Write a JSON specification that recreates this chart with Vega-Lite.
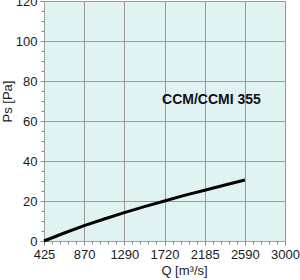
{
  "$schema": "https://vega.github.io/schema/vega-lite/v6.json",
  "width": 241,
  "height": 240,
  "autosize": "none",
  "padding": {"left": 44, "top": 1, "right": 15, "bottom": 39},
  "background": "white",
  "view": {"fill": "#e1f2f2", "stroke": "#a8a8a8", "strokeWidth": 1},
  "config": {
    "font": "Liberation Sans",
    "axis": {
      "labelFont": "Liberation Sans",
      "labelFontSize": 13,
      "labelColor": "#1a1a1a",
      "titleFont": "Liberation Sans",
      "titleFontSize": 13,
      "titleFontWeight": "normal",
      "titleColor": "#1a1a1a",
      "tickColor": "#8a8a8a",
      "domainColor": "#a0a0a0",
      "gridColor": "#9a9a9a",
      "gridOpacity": 1,
      "gridWidth": 1,
      "tickSize": 4
    }
  },
  "resolve": {"axis": {"x": "independent", "y": "independent"}},
  "layer": [
    {
      "data": {
        "values": [
          {"Q": 425, "Ps": 0},
          {"Q": 650, "Ps": 4.0},
          {"Q": 870, "Ps": 7.7},
          {"Q": 1080, "Ps": 11.0},
          {"Q": 1290, "Ps": 14.2},
          {"Q": 1505, "Ps": 17.2},
          {"Q": 1720, "Ps": 20.0},
          {"Q": 1950, "Ps": 22.8},
          {"Q": 2185, "Ps": 25.4},
          {"Q": 2390, "Ps": 28.0},
          {"Q": 2590, "Ps": 30.5}
        ]
      },
      "mark": {"type": "line", "color": "#000000", "strokeWidth": 3, "strokeCap": "butt"},
      "encoding": {
        "x": {
          "field": "Q",
          "type": "quantitative",
          "scale": {
            "domain": [425, 870, 1290, 1720, 2185, 2590, 3000],
            "range": [0, 40.17, 80.33, 120.5, 160.67, 200.83, 241],
            "nice": false,
            "zero": false
          },
          "axis": {
            "orient": "bottom",
            "values": [425, 870, 1290, 1720, 2185, 2590, 3000],
            "format": "d",
            "grid": true,
            "labelPadding": 3,
            "labelFlush": false,
            "labelOverlap": false,
            "title": "Q [m³/s]",
            "titleX": 140,
            "titleY": 33,
            "titleBaseline": "alphabetic",
            "titleAlign": "center"
          }
        },
        "y": {
          "field": "Ps",
          "type": "quantitative",
          "scale": {"domain": [0, 120], "nice": false},
          "axis": {
            "orient": "left",
            "values": [0, 20, 40, 60, 80, 100, 120],
            "format": "d",
            "grid": true,
            "labelPadding": 3,
            "labelFlush": false,
            "labelOverlap": false,
            "title": "Ps [Pa]",
            "titleX": -33,
            "titleY": 100,
            "titleAngle": 270,
            "titleAlign": "center",
            "titleBaseline": "alphabetic"
          }
        }
      }
    },
    {
      "data": {"values": [{"Q": 2253, "Ps": 70.5, "label": "CCM/CCMI 355"}]},
      "mark": {"type": "text", "font": "Liberation Sans", "fontSize": 14, "fontWeight": "bold", "color": "#111111", "align": "center", "baseline": "middle"},
      "encoding": {
        "text": {"field": "label"},
        "x": {
          "field": "Q",
          "type": "quantitative",
          "axis": {
            "orient": "bottom",
            "values": [514, 603, 692, 781, 954, 1038, 1122, 1206, 1376, 1462, 1548, 1634, 1813, 1906, 1999, 2092, 2266, 2347, 2428, 2509, 2672, 2754, 2836, 2918],
            "grid": false,
            "labels": false,
            "domain": false,
            "tickSize": 3,
            "title": null
          }
        },
        "y": {
          "field": "Ps",
          "type": "quantitative",
          "axis": {
            "orient": "left",
            "values": [5, 10, 15, 25, 30, 35, 45, 50, 55, 65, 70, 75, 85, 90, 95, 105, 110, 115],
            "grid": false,
            "labels": false,
            "domain": false,
            "tickSize": 3,
            "title": null
          }
        }
      }
    }
  ]
}
